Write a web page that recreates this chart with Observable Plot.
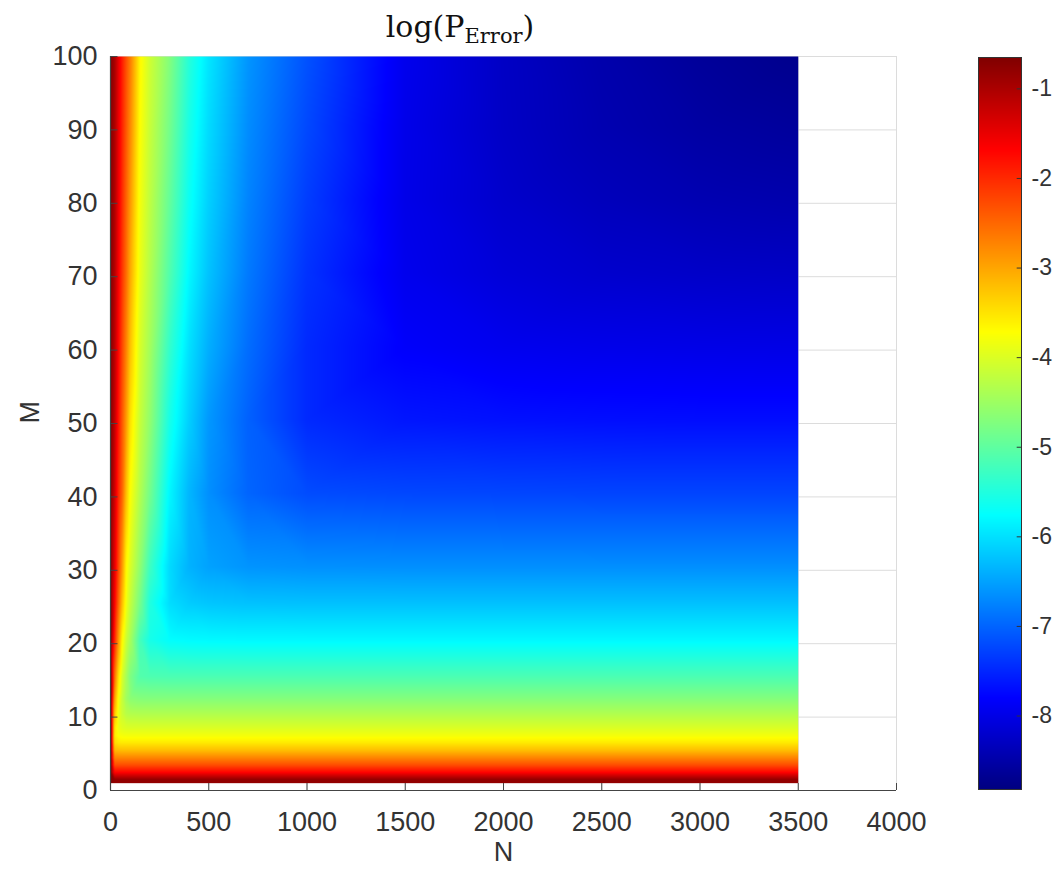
<!DOCTYPE html>
<html><head><meta charset="utf-8">
<script src="https://cdn.jsdelivr.net/npm/d3@7"></script>
<script src="https://cdn.jsdelivr.net/npm/@observablehq/plot@0.6"></script>
<style>
body{margin:0;background:#fff;}
#wrap{position:relative;width:1062px;height:876px;overflow:hidden;}
#main{position:absolute;left:0;top:0;}
#cbar{position:absolute;left:945px;top:0;}
#title{position:absolute;left:0;top:12px;width:920px;text-align:center;font-family:"DejaVu Serif",serif;font-size:30px;line-height:30px;color:#111;white-space:nowrap;}
#title span{font-size:21px;position:relative;top:6px;}
</style></head><body>
<div id="wrap"><div id="main"></div><div id="cbar"></div>
<div id="title">log(P<span>Error</span>)</div></div>
<script>
// Sample columns (N) and rows (M)
const N = [1, 20, 40, 60, 80, 100, 150, 200, 300, 400, 500, 700, 1000, 1500, 2000, 2500, 3000, 3500];
const M = [1, 2, 3, 4, 5, 6, 7, 8, 10, 12, 15, 20, 25, 30, 40, 50, 60, 70, 80, 90, 100];

// log(P_Error) estimated from colours, one array per M row
const pe_M1   = [-0.65, -0.8, -0.8, -0.8, -0.8, -0.8, -0.8, -0.8, -0.8, -0.8, -0.8, -0.8, -0.8, -0.8, -0.8, -0.8, -0.8, -0.8];
const pe_M2   = [-0.72, -1.7, -1.7, -1.7, -1.7, -1.7, -1.7, -1.7, -1.7, -1.7, -1.7, -1.7, -1.7, -1.7, -1.7, -1.7, -1.7, -1.7];
const pe_M3   = [-0.75, -2.3, -2.3, -2.3, -2.3, -2.3, -2.3, -2.3, -2.3, -2.3, -2.3, -2.3, -2.3, -2.3, -2.3, -2.3, -2.3, -2.3];
const pe_M4   = [-0.78, -2.74, -2.75, -2.75, -2.75, -2.75, -2.75, -2.75, -2.75, -2.75, -2.75, -2.75, -2.75, -2.75, -2.75, -2.75, -2.75, -2.75];
const pe_M5   = [-0.78, -3.15, -3.19, -3.2, -3.2, -3.2, -3.2, -3.2, -3.2, -3.2, -3.2, -3.2, -3.2, -3.2, -3.2, -3.2, -3.2, -3.2];
const pe_M6   = [-0.78, -3.42, -3.53, -3.55, -3.55, -3.55, -3.55, -3.55, -3.55, -3.55, -3.55, -3.55, -3.55, -3.55, -3.55, -3.55, -3.55, -3.55];
const pe_M7   = [-0.77, -3.55, -3.74, -3.79, -3.8, -3.8, -3.8, -3.8, -3.8, -3.8, -3.8, -3.8, -3.8, -3.8, -3.8, -3.8, -3.8, -3.8];
const pe_M8   = [-0.77, -3.5, -3.85, -3.95, -3.99, -4.0, -4.0, -4.0, -4.0, -4.0, -4.0, -4.0, -4.0, -4.0, -4.0, -4.0, -4.0, -4.0];
const pe_M10  = [-0.76, -3.2, -3.85, -4.13, -4.29, -4.33, -4.35, -4.35, -4.35, -4.35, -4.35, -4.35, -4.35, -4.35, -4.35, -4.35, -4.35, -4.35];
const pe_M12  = [-0.76, -2.9, -3.75, -4.18, -4.47, -4.63, -4.69, -4.7, -4.7, -4.7, -4.7, -4.7, -4.7, -4.7, -4.7, -4.7, -4.7, -4.7];
const pe_M15  = [-0.75, -2.5, -3.45, -4.06, -4.41, -4.74, -5.09, -5.13, -5.15, -5.15, -5.15, -5.15, -5.15, -5.15, -5.15, -5.15, -5.15, -5.15];
const pe_M20  = [-0.75, -1.9, -2.85, -3.69, -4.13, -4.42, -5.21, -5.58, -5.75, -5.78, -5.79, -5.8, -5.8, -5.8, -5.8, -5.8, -5.8, -5.8];
const pe_M25  = [-0.74, -1.6, -2.45, -3.21, -3.83, -4.18, -4.82, -5.5, -6.02, -6.16, -6.21, -6.24, -6.25, -6.25, -6.25, -6.25, -6.25, -6.25];
const pe_M30  = [-0.74, -1.42, -2.21, -2.91, -3.66, -4.0, -4.6, -5.26, -6.04, -6.37, -6.5, -6.61, -6.64, -6.65, -6.65, -6.65, -6.65, -6.65];
const pe_M40  = [-0.73, -1.24, -1.97, -2.48, -3.19, -3.73, -4.33, -4.83, -5.81, -6.34, -6.65, -6.99, -7.19, -7.23, -7.24, -7.25, -7.25, -7.25];
const pe_M50  = [-0.72, -1.15, -1.82, -2.38, -2.91, -3.47, -4.17, -4.59, -5.57, -6.14, -6.58, -7.02, -7.47, -7.63, -7.67, -7.69, -7.7, -7.7];
const pe_M60  = [-0.72, -1.09, -1.7, -2.24, -2.71, -3.21, -4.03, -4.44, -5.34, -5.99, -6.4, -6.92, -7.47, -7.83, -7.93, -7.97, -7.99, -8.0];
const pe_M70  = [-0.71, -1.04, -1.61, -2.11, -2.54, -3.01, -3.88, -4.31, -5.1, -5.8, -6.24, -6.82, -7.4, -7.94, -8.11, -8.2, -8.24, -8.26];
const pe_M80  = [-0.71, -1.0, -1.55, -2.03, -2.46, -2.87, -3.8, -4.23, -4.95, -5.67, -6.13, -6.74, -7.31, -7.98, -8.21, -8.34, -8.42, -8.46];
const pe_M90  = [-0.7, -0.98, -1.5, -1.96, -2.37, -2.75, -3.72, -4.16, -4.82, -5.56, -6.04, -6.67, -7.22, -7.97, -8.26, -8.43, -8.54, -8.6];
const pe_M100 = [-0.7, -0.95, -1.45, -1.9, -2.3, -2.65, -3.65, -4.1, -4.7, -5.45, -5.95, -6.6, -7.14, -7.94, -8.27, -8.47, -8.62, -8.72];

const xTicks = [0, 500, 1000, 1500, 2000, 2500, 3000, 3500, 4000];
const yTicks = [0, 10, 20, 30, 40, 50, 60, 70, 80, 90, 100];
const cbTicks = [-8, -7, -6, -5, -4, -3, -2, -1];
const colorDomain = [-8.82, -0.65];

const rows = [pe_M1, pe_M2, pe_M3, pe_M4, pe_M5, pe_M6, pe_M7, pe_M8, pe_M10, pe_M12, pe_M15,
  pe_M20, pe_M25, pe_M30, pe_M40, pe_M50, pe_M60, pe_M70, pe_M80, pe_M90, pe_M100];
const table = M.flatMap((m, i) => N.map((n, j) => ({N: n, M: m, v: rows[i][j]})));

// MATLAB "jet" colormap
const jetScale = d3.scaleLinear()
  .domain([0, 0.125, 0.375, 0.625, 0.875, 1])
  .range(["#000080", "#0000ff", "#00ffff", "#ffff00", "#ff0000", "#800000"])
  .interpolate(d3.interpolateRgb).clamp(true);
const jet = t => jetScale(t);

const axisColor = "#444";
const textColor = "#333";
const font = "'Liberation Sans', Arial, sans-serif";

const main = Plot.plot({
  width: 940, height: 876,
  marginLeft: 110, marginRight: 44, marginTop: 56, marginBottom: 86,
  style: {fontFamily: font, background: "#fff"},
  x: {domain: [0, 4000], axis: null},
  y: {domain: [0, 100], axis: null},
  color: {type: "linear", domain: colorDomain, interpolate: jet},
  marks: [
    Plot.ruleY(yTicks.filter(d => d > 0), {y: d => d, stroke: "#dcdcdc"}),
    Plot.ruleX(xTicks.filter(d => d > 0), {x: d => d, stroke: "#dcdcdc"}),
    // pcolor-style cells: value of row M fills the band [M, M+1], so sample at the band centre
    Plot.raster(table, {x: "N", y: d => d.M + 0.5, fill: "v", interpolate: "barycentric", x1: 0, x2: 3500, y1: 1, y2: 100}),
    Plot.ruleY([0], {stroke: axisColor, strokeWidth: 1.2}),
    Plot.ruleX([0], {stroke: axisColor, strokeWidth: 1.2}),
    Plot.ruleX(xTicks, {x: d => d, y1: 0, y2: 0.95, stroke: axisColor}),
    Plot.ruleY(yTicks, {y: d => d, x1: 0, x2: 38, stroke: axisColor}),
    Plot.axisX(xTicks, {anchor: "bottom", tickSize: 0, tickPadding: 21, fontSize: 27, label: null, color: textColor, tickFormat: d => String(d)}),
    Plot.axisY(yTicks, {anchor: "left", tickSize: 0, tickPadding: 13, fontSize: 27, label: null, color: textColor, tickFormat: d => String(d)}),
    Plot.text(["N"], {text: d => d, frameAnchor: "bottom", dy: 70, fontSize: 27, fill: textColor}),
    Plot.text(["M"], {text: d => d, frameAnchor: "left", dx: -80, rotate: -90, fontSize: 27, fill: textColor})
  ]
});
document.getElementById("main").append(main);

const cbar = Plot.plot({
  width: 117, height: 876,
  marginLeft: 33, marginRight: 41, marginTop: 57, marginBottom: 87,
  style: {fontFamily: font, background: "transparent"},
  x: {domain: [0, 1], axis: null},
  y: {domain: colorDomain, axis: null},
  color: {type: "linear", domain: colorDomain, interpolate: jet},
  marks: [
    Plot.raster({x1: 0, x2: 1, y1: colorDomain[0], y2: colorDomain[1], fill: (x, y) => y}),
    Plot.frame({stroke: "#333"}),
    Plot.ruleY(cbTicks, {y: d => d, x1: 0.9, x2: 1, stroke: "#333"}),
    Plot.axisY(cbTicks, {anchor: "right", tickSize: 0, tickPadding: 10, fontSize: 23, label: null, color: textColor, tickFormat: d => String(d)})
  ]
});
document.getElementById("cbar").append(cbar);
</script>
</body></html>
